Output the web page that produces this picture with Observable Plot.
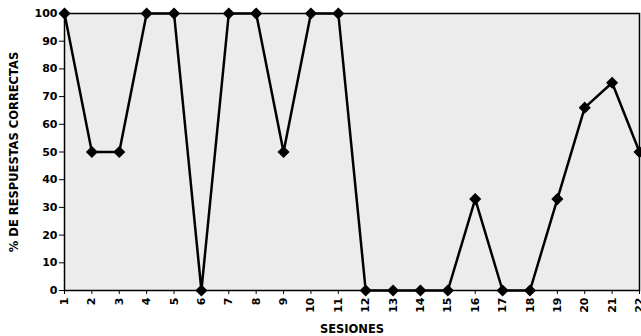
<!DOCTYPE html>
<html><head><meta charset="utf-8">
<script src="https://cdn.jsdelivr.net/npm/d3@7"></script>
<script src="https://cdn.jsdelivr.net/npm/@observablehq/plot@0.6"></script>
<style>
html,body{margin:0;padding:0;background:#fff;}
svg{font-family:"DejaVu Sans",Arial,sans-serif;font-weight:bold;}
</style>
</head><body>
<div id="chart"></div>
<script>
const sesiones = [1,2,3,4,5,6,7,8,9,10,11,12,13,14,15,16,17,18,19,20,21,22];
const correctas = [100,50,50,100,100,0,100,100,50,100,100,0,0,0,0,33,0,0,33,66,75,50];
const yTicks = [0,10,20,30,40,50,60,70,80,90,100];
const data = sesiones.map((s,i)=>({s, v: correctas[i]}));

const chart = Plot.plot({
  width: 641,
  height: 336,
  marginLeft: 64,
  marginRight: 2,
  marginTop: 13,
  marginBottom: 46,
  style: {fontSize: "11px", fontWeight: "bold", fontFamily: "DejaVu Sans, Arial, sans-serif", background: "#fff"},
  x: {domain: [1,22], label: null},
  y: {domain: [0,100], label: null},
  marks: [
    Plot.frame({fill: "#ececec", stroke: "black", strokeWidth: 1.5}),
    Plot.axisX({ticks: sesiones, tickFormat: d=>String(d), tickRotate: -90, tickSize: 4, tickPadding: 3, label: null, fontWeight: "bold", fontSize: 11}),
    Plot.axisY({ticks: yTicks, tickSize: 5, tickPadding: 2, label: null, fontWeight: "bold", fontSize: 11}),
    Plot.text(["SESIONES"], {frameAnchor: "bottom", dy: 42, fontSize: 11.5, fontWeight: "bold"}),
    Plot.text(["% DE RESPUESTAS CORRECTAS"], {frameAnchor: "left", textAnchor: "middle", dx: -50, rotate: -90, fontSize: 11.5, fontWeight: "bold"}),
    Plot.line(data, {x: "s", y: "v", stroke: "black", strokeWidth: 2.5}),
    Plot.dot(data, {x: "s", y: "v", symbol: "diamond2", r: 4.5, fill: "black", stroke: "black"})
  ]
});
document.getElementById("chart").appendChild(chart);
</script>
</body></html>
